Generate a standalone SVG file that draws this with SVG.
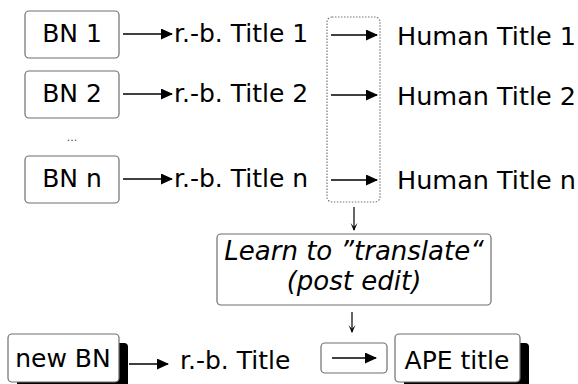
<svg xmlns="http://www.w3.org/2000/svg" width="578" height="384" viewBox="0 0 578 384">
<style>
.box{fill:#fff;stroke:#6e6e6e;stroke-width:1.2}
.shadow{fill:#000}
.t{font-family:"DejaVu Sans",sans-serif;font-size:25px;fill:#000}
.h{font-family:"DejaVu Sans",sans-serif;font-size:25.5px;fill:#000}
.i{font-family:"DejaVu Sans",sans-serif;font-size:26px;font-style:italic;fill:#000}
.c{text-anchor:middle}
.edge{stroke:#000;stroke-width:1.3;fill:none}
.thin{stroke:#000;stroke-width:1.2;fill:none}
</style>
<defs>
<marker id="ah" markerWidth="12" markerHeight="11" refX="11" refY="5.5" orient="auto" markerUnits="userSpaceOnUse">
<path d="M0,0 L12,5.5 L0,11 z" fill="#000"/>
</marker>
<marker id="ahs" markerWidth="8" markerHeight="10" refX="4" refY="9" orient="0" markerUnits="userSpaceOnUse">
<path d="M0.5,2 L4,10 L7.5,2 L4,6 z" fill="#000"/>
</marker>
</defs>
<g id="bn1"><rect class="box" x="25" y="11" width="94" height="47" rx="4"/><text class="t c" x="72" y="42">BN 1</text></g>
<g id="bn2"><rect class="box" x="25" y="71" width="94" height="47" rx="4"/><text class="t c" x="72" y="102">BN 2</text></g>
<g id="dots"><text x="72" y="141" font-family="DejaVu Sans,sans-serif" font-size="11" fill="#444" text-anchor="middle">...</text></g>
<g id="bnn"><rect class="box" x="25" y="156" width="94" height="47" rx="4"/><text class="t c" x="72" y="187">BN n</text></g>
<g id="rb1"><text class="t" x="174" y="42">r.-b. Title 1</text></g>
<g id="rb2"><text class="t" x="174" y="102">r.-b. Title 2</text></g>
<g id="rbn"><text class="t" x="174" y="187">r.-b. Title n</text></g>
<g id="group"><rect x="327" y="17" width="53" height="185" rx="5" fill="none" stroke="#777" stroke-width="1.2" stroke-dasharray="1.5,1.5"/></g>
<g id="ht1"><text class="h" x="397" y="45">Human Title 1</text></g>
<g id="ht2"><text class="h" x="397" y="105">Human Title 2</text></g>
<g id="htn"><text class="h" x="397" y="189">Human Title n</text></g>
<g id="learn"><rect class="box" x="217" y="234" width="274" height="71" rx="4"/><text class="i c" x="354" y="260">Learn to ”translate“</text><text class="i c" x="354" y="290">(post edit)</text></g>
<g id="newbn"><rect class="shadow" x="17" y="343" width="111" height="48" rx="4"/><rect class="box" x="8" y="334" width="111" height="48" rx="4"/><text class="t c" x="63" y="367">new BN</text></g>
<g id="rbt"><text class="t" x="180" y="369">r.-b. Title</text></g>
<g id="smallbox"><rect class="box" x="321" y="343" width="66" height="30" rx="4"/></g>
<g id="ape"><rect class="shadow" x="404" y="343" width="125" height="48" rx="4"/><rect class="box" x="395" y="334" width="125" height="48" rx="4"/><text class="t c" x="457" y="369">APE title</text></g>
<g id="connectors">
<line class="edge" x1="123" y1="34" x2="172" y2="34" marker-end="url(#ah)"/>
<line class="edge" x1="123" y1="94" x2="172" y2="94" marker-end="url(#ah)"/>
<line class="edge" x1="123" y1="179" x2="172" y2="179" marker-end="url(#ah)"/>
<line class="edge" x1="331" y1="35" x2="377" y2="35" marker-end="url(#ah)"/>
<line class="edge" x1="331" y1="95" x2="377" y2="95" marker-end="url(#ah)"/>
<line class="edge" x1="331" y1="180" x2="377" y2="180" marker-end="url(#ah)"/>
<line class="thin" x1="354" y1="207" x2="354" y2="230" marker-end="url(#ahs)"/>
<line class="thin" x1="352" y1="312" x2="352" y2="332" marker-end="url(#ahs)"/>
<line class="edge" x1="129" y1="364" x2="168" y2="364" marker-end="url(#ah)"/>
<line class="edge" x1="332" y1="358" x2="376" y2="358" marker-end="url(#ah)"/>
</g>
</svg>
